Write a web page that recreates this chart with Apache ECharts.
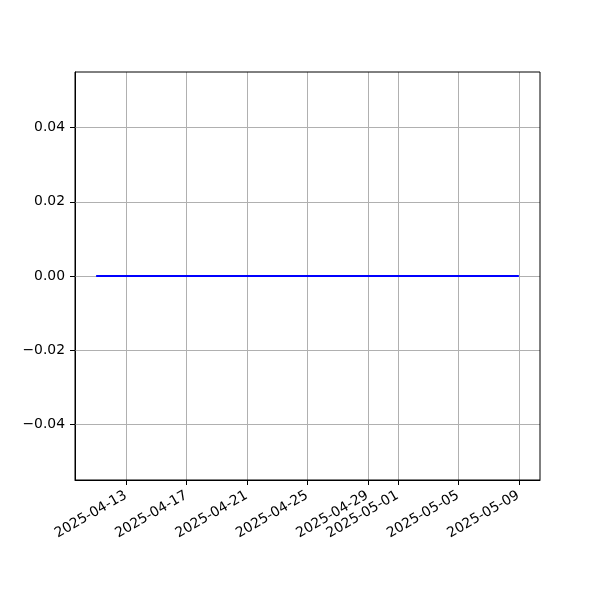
<!DOCTYPE html>
<html>
<head>
<meta charset="utf-8">
<script src="https://cdn.jsdelivr.net/npm/echarts@6/dist/echarts.min.js"></script>
<style>html,body{margin:0;padding:0;background:#fff}#c{width:600px;height:600px}</style>
</head>
<body>
<div id="c"></div>
<script>
// Data
var dates = ['2025-04-11','2025-04-12','2025-04-13','2025-04-14','2025-04-15','2025-04-16','2025-04-17','2025-04-18','2025-04-19','2025-04-20','2025-04-21','2025-04-22','2025-04-23','2025-04-24','2025-04-25','2025-04-26','2025-04-27','2025-04-28','2025-04-29','2025-04-30','2025-05-01','2025-05-02','2025-05-03','2025-05-04','2025-05-05','2025-05-06','2025-05-07','2025-05-08','2025-05-09'];
var values = [0,0,0,0,0,0,0,0,0,0,0,0,0,0,0,0,0,0,0,0,0,0,0,0,0,0,0,0,0];
var xTickLabels = ['2025-04-13','2025-04-17','2025-04-21','2025-04-25','2025-04-29','2025-05-01','2025-05-05','2025-05-09'];
var yTickLabels = [-0.04,-0.02,0.00,0.02,0.04];

function toTs(s){var p=s.split('-');return Date.UTC(+p[0],+p[1]-1,+p[2]);}
function fmtDate(v){var d=new Date(v);var m=d.getUTCMonth()+1,dd=d.getUTCDate();return d.getUTCFullYear()+'-'+(m<10?'0':'')+m+'-'+(dd<10?'0':'')+dd;}

var xs = dates.map(toTs);
var xTicks = xTickLabels.map(toTs);
var span = xs[xs.length-1]-xs[0];
var xMin = xs[0]-0.05*span, xMax = xs[xs.length-1]+0.05*span;

var font = 'DejaVu Sans';
var fs = 13.9;

var gridLineStyle = {color:'#b0b0b0', width:1, type:'solid'};
var markData = xTicks.map(function(t){return {xAxis:t};}).concat(yTickLabels.map(function(v){return {yAxis:v};}));

var chart = echarts.init(document.getElementById('c'), null, {renderer:'canvas'});
chart.setOption({
  animation:false,
  backgroundColor:'#fff',
  grid:{left:75,right:60,top:72,bottom:120,show:true,borderColor:'#000',borderWidth:1,backgroundColor:'transparent',z:10},
  xAxis:{
    type:'value', min:xMin, max:xMax,
    axisLine:{show:true,onZero:false,lineStyle:{color:'#000',width:1}},
    splitLine:{show:false},
    axisTick:{show:true,customValues:xTicks,length:5,inside:false,lineStyle:{color:'#000',width:1}},
    axisLabel:{show:true,customValues:xTicks,rotate:30,margin:6,align:'right',verticalAlign:'top',padding:[0,4.6,0,0],
      color:'#000',fontFamily:font,fontSize:fs,formatter:function(v){return fmtDate(v);}}
  },
  yAxis:{
    type:'value', min:-0.055, max:0.055,
    axisLine:{show:true,onZero:false,lineStyle:{color:'#000',width:1}},
    splitLine:{show:false},
    axisTick:{show:true,customValues:yTickLabels,length:5,lineStyle:{color:'#000',width:1}},
    axisLabel:{show:true,customValues:yTickLabels,margin:10,color:'#000',fontFamily:font,fontSize:fs,
      formatter:function(v){var s=Math.abs(v).toFixed(2);return (v< -1e-12?'\u2212':'')+s;}}
  },
  series:[
    {type:'line',data:[],silent:true,z:1,
     markLine:{silent:true,symbol:'none',label:{show:false},lineStyle:gridLineStyle,data:markData,animation:false}},
    {type:'line',data:xs.map(function(x,i){return [x,values[i]];}),showSymbol:false,symbol:'none',
     lineStyle:{color:'#0000ff',width:2},z:5,silent:true}
  ]
});
</script>
</body>
</html>
